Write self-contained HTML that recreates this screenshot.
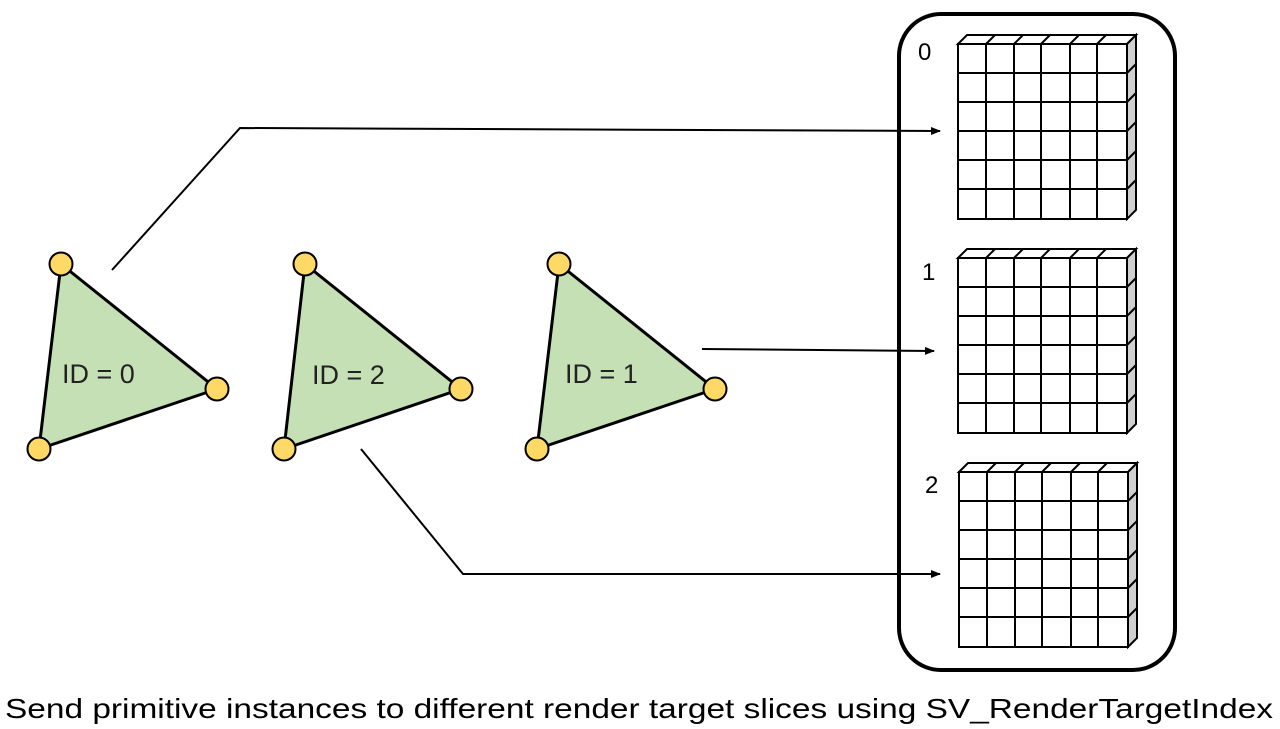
<!DOCTYPE html>
<html><head><style>
body{margin:0;background:#fff;}
svg{display:block;}
text{font-family:"Liberation Sans",sans-serif;}
</style></head><body>
<svg width="1280" height="729" viewBox="0 0 1280 729" xmlns="http://www.w3.org/2000/svg">
<defs>
<marker id="ah" markerWidth="10" markerHeight="8" refX="9" refY="4" orient="auto" markerUnits="userSpaceOnUse">
<path d="M0,0 L10,4 L0,8 Z" fill="#000"/>
</marker>
<g id="grid" stroke="#000" stroke-width="2" fill="none">
<polygon points="0,0 9,-9 178,-9 169,0" fill="#fff"/>
<polygon points="169,0 178,-9 178,166 169,175" fill="#d0d0d0"/>
<rect x="0" y="0" width="169" height="175" fill="#fff"/>
<path d="M28,0V175M56,0V175M83,0V175M112,0V175M139,0V175M0,29H169M0,58H169M0,87H169M0,116H169M0,145H169"/>
<path d="M28,0l9,-9M56,0l9,-9M83,0l9,-9M112,0l9,-9M139,0l9,-9M169,29l9,-9M169,58l9,-9M169,87l9,-9M169,116l9,-9M169,145l9,-9"/>
</g>
</defs>
<rect x="899" y="14" width="276" height="656" rx="42" ry="42" fill="none" stroke="#000" stroke-width="4"/>
<use href="#grid" x="958" y="44"/>
<use href="#grid" x="958" y="258"/>
<use href="#grid" x="959" y="472"/>
<text x="918" y="60" font-size="24">0</text>
<text x="922" y="280" font-size="24">1</text>
<text x="925" y="493" font-size="24">2</text>

<g stroke="#000" stroke-width="2" fill="none">
<polyline points="112,270 240,128 940,131" marker-end="url(#ah)"/>
<line x1="702" y1="349" x2="934" y2="351" marker-end="url(#ah)"/>
<polyline points="361,449 463,574 940,574" marker-end="url(#ah)"/>
</g>

<g stroke="#000" stroke-width="3" fill="#c5e0b4">
<polygon points="61,264 217,389 39,449"/>
<polygon points="305,264 461,389 284,449"/>
<polygon points="559,264 715,389 537,449"/>
</g>
<g stroke="#000" stroke-width="2" fill="#ffd966">
<circle cx="61" cy="264" r="11.5"/><circle cx="217" cy="389" r="11.5"/><circle cx="39" cy="449" r="11.5"/>
<circle cx="305" cy="264" r="11.5"/><circle cx="461" cy="389" r="11.5"/><circle cx="284" cy="449" r="11.5"/>
<circle cx="559" cy="264" r="11.5"/><circle cx="715" cy="389" r="11.5"/><circle cx="537" cy="449" r="11.5"/>
</g>
<g font-size="27" fill="#222">
<text x="62" y="383">ID = 0</text>
<text x="312" y="384">ID = 2</text>
<text x="565" y="383">ID = 1</text>
</g>
<text x="5" y="718" font-size="28" fill="#000" textLength="1268" lengthAdjust="spacingAndGlyphs">Send primitive instances to different render target slices using SV_RenderTargetIndex</text>
</svg>
</body></html>
